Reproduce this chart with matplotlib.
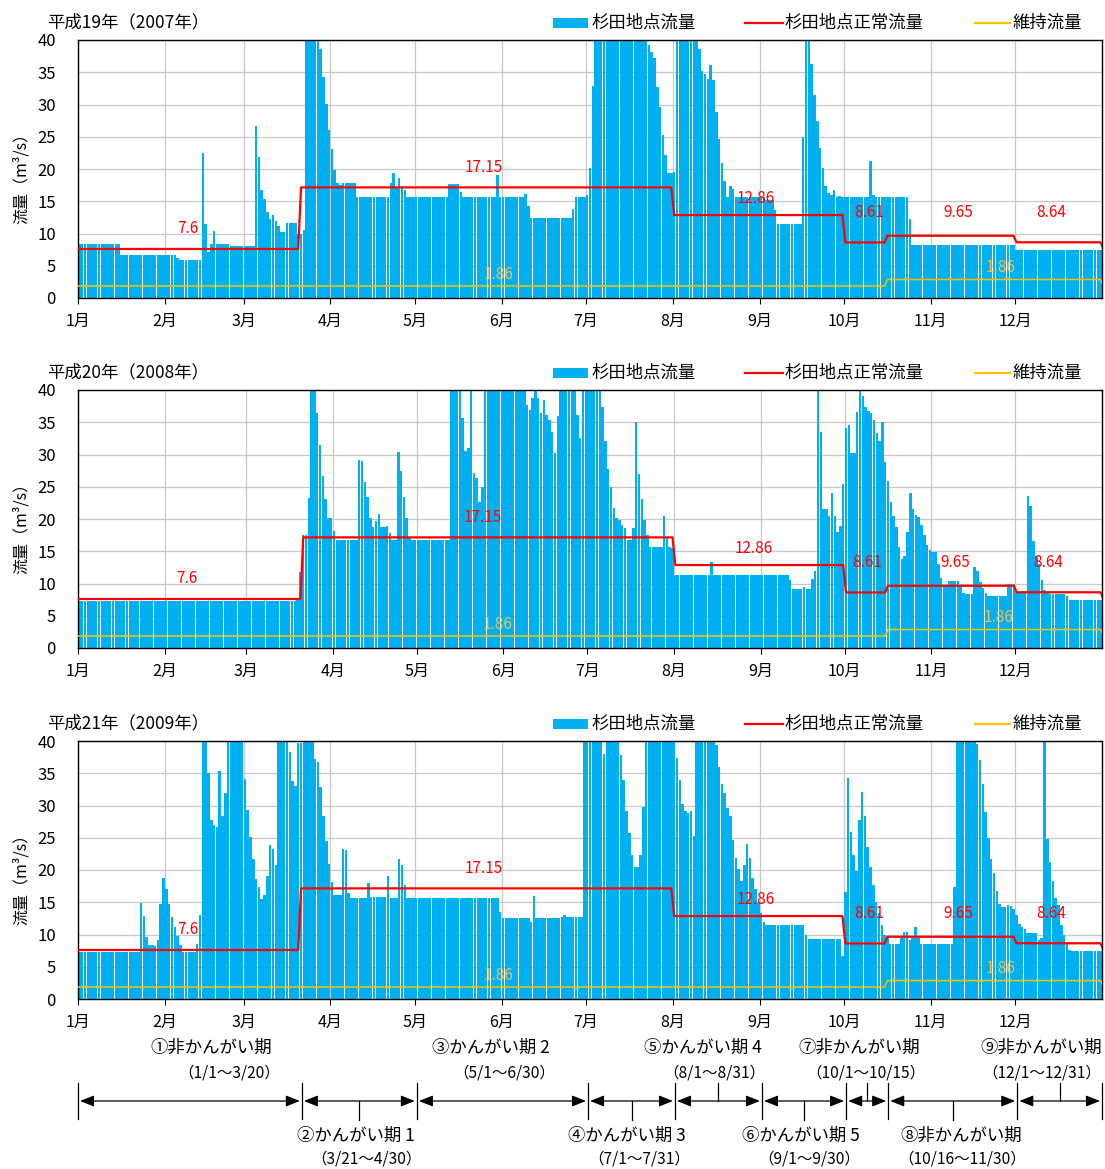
import numpy as np
import pandas as pd
import matplotlib
matplotlib.use("Agg")
import matplotlib.pyplot as plt
import matplotlib.transforms as mtransforms
from matplotlib.patches import Rectangle
from matplotlib.lines import Line2D

plt.rcParams['font.family'] = ['Noto Sans CJK JP', 'DejaVu Sans']

W, H = 1105, 1169

years = [2007, 2008, 2009]
titles = ["平成19年（2007年）", "平成20年（2008年）", "平成21年（2009年）"]
month_labels = [f"{m}月" for m in range(1, 13)]

OFF = 50  # off scale (> 40 m3/s)

# daily flow at 杉田 [m3/s], value or (value, number of days)
flow_2007 = [(8.4, 3), (8.3, 12), (6.6, 20), 6.2, (5.95, 8), 22.5, 11.4, 7.2, 8.3, 10.4,
             (8.35, 5), (8.1, 9), 26.7, 21.9, 16.8, 15.4, 13.4, 12.3, 12.9, 12.0, 11.1,
             (10.3, 2), (11.6, 4), (10.0, 2), 10.6, (OFF, 5), 38.6, 34.2, 30.1, 26.1, 23.1,
             19.9, 17.8, 17.5, (17.8, 5), (15.6, 12), 17.9, 19.4, 17.0, 18.6, 17.4, 16.7,
             (15.6, 15), (17.65, 4), 16.5, (15.6, 12), 19.0, (15.7, 9), 16.2, 14.3, (12.4, 15),
             13.8, (15.6, 4), 15.9, 20.1, 32.9, (OFF, 19), 39.2, 38.2, 37.2, 32.7, 29.6, 25.3,
             22.2, (19.4, 2), 19.6, (OFF, 8), 38.6, 35.2, 34.8, 33.9, 36.1, 33.8, 28.9, 24.6,
             21.0, 18.1, 15.7, 17.3, 16.9, (15.6, 11), (15.2, 3), 13.6, (11.4, 9), 25.0,
             (OFF, 2), 36.3, 31.5, 27.4, 23.3, 20.2, 17.4, 16.3, 15.9, 16.7, 15.7, 15.8,
             (15.6, 10), 21.3, 15.9, (15.6, 12), 12.2, (8.15, 37), (7.4, 31)]

flow_2008 = [(7.3, 78), 7.8, 11.8, (17.5, 2), 23.2, (OFF, 2), 36.5, 31.4, 26.7, 23.1, (20.1, 2),
             18.1, (16.7, 8), 29.1, 29.0, 25.8, 23.4, 20.2, 18.7, 19.7, 20.7, 18.8, 18.8, 18.9,
             17.8, (16.7, 2), 30.4, 27.4, 23.4, 20.1, 17.0, (16.7, 14), (OFF, 4), 35.6, 30.5,
             31.0, OFF, 27.2, 26.4, 22.7, 24.9, (OFF, 15), 37.7, 36.9, 38.7, 41, 38.8, 36.5,
             38.4, 36.1, 35.3, 33.5, 30.2, 36.0, (OFF, 6), 36.2, 32.6, (OFF, 7), 37.4, 32.1,
             27.7, 24.9, 21.7, 20.1, 19.8, 19.0, 18.6, (16.7, 2), 18.6, 35.0, 26.9, 23.1, 19.8,
             17.5, 15.7, (15.6, 4), 20.4, 17.0, 15.6, 15.5, (11.3, 13), 13.4, (11.3, 27), 10.5,
             (9.1, 4), 9.5, (9.1, 2), 10.7, 11.9, OFF, 33.5, (21.5, 2), 20.4, 24.1, 20.4, 18.0,
             18.9, 25.5, 34.1, 34.5, (30.2, 2), 36.6, 41, 39.1, 37.3, 36.7, 36.5, 35.3, 33.4,
             32.1, 35.0, 28.9, 25.9, 22.7, 20.4, 18.7, 15.6, 13.8, 14.2, 18.0, 24.1, 21.5, 20.6,
             20.3, 19.1, 17.5, 16.0, 15.2, (14.9, 2), 13.1, 10.9, (9.8, 2), (10.4, 4), 9.8, 8.6,
             (8.3, 3), 12.5, 11.9, 10.3, 9.25, 8.6, (8.1, 7), 10.0, (9.9, 2), (8.6, 2), 8.8, 8.7,
             23.5, 22.0, 16.6, 14.3, 13.0, 10.5, 9.0, 8.5, (8.3, 6), 8.0, (7.4, 12)]

flow_2009 = [(7.3, 22), 14.9, 12.9, 9.6, (8.4, 2), 8.2, 9.1, 14.8, 18.7, 17.1, 14.7, 12.7, 11.2,
             9.8, 8.4, (7.3, 5), 8.6, 13.0, (OFF, 2), 35.0, 27.8, 26.9, 26.7, 35.3, 28.3, 31.9,
             (OFF, 6), 34.1, 29.3, 25.1, 21.7, 18.6, 17.3, 15.5, 16.1, 19.1, 23.8, 23.3, 20.7,
             (OFF, 4), 38.3, 33.8, 33.0, (39.7, 2), (OFF, 4), 37.2, 36.7, 32.8, 28.4, 24.5, 21.0,
             18.1, (16.2, 3), 23.3, 23.1, 16.5, (15.7, 6), 18.0, (15.8, 6), 19.0, (15.7, 3), 21.7,
             20.8, 17.7, (15.7, 33), 13.5, (12.5, 10), 11.9, 16.0, (12.5, 9), 12.7, 13.0, (12.7, 6),
             (OFF, 7), 38.0, (OFF, 5), 37.8, 34.0, 29.1, 25.8, 22.4, (20.4, 2), 22.4, 29.8,
             (OFF, 11), 37.4, 34.0, 30.3, 29.1, 28.8, 29.1, 25.3, (OFF, 7), 39.4, 36.0, 33.4, 32.0,
             29.6, 28.3, 24.7, 21.8, 20.2, 18.3, 20.7, 24.0, 21.9, 18.8, 17.0, 15.1, 13.4, 12.0,
             (11.5, 14), 9.9, (9.25, 12), 6.7, 16.6, 34.3, 25.9, 22.3, 19.8, 27.8, 32.1, 28.3,
             23.6, 20.5, 17.7, 15.1, 13.3, 11.4, 9.9, 9.4, (8.5, 4), 9.4, (10.4, 2), 9.1, 9.5,
             11.1, 9.4, (8.5, 12), 17.4, (OFF, 7), 39.6, 37.0, 33.4, 29.0, 25.0, 21.7, 19.5, 16.7,
             14.8, (14.3, 2), 14.6, 14.4, 14.0, 13.0, 11.7, 11.2, 10.9, (10.2, 4), 9.1, 9.4, OFF,
             24.8, 21.3, 18.3, 15.7, 14.6, 11.5, 9.9, 8.5, 7.6, (7.4, 11)]

# 杉田地点正常流量 / 維持流量 : start date of each period and value
normal_start = ["01-01", "03-21", "08-01", "10-01", "10-16", "12-01"]
normal_vals = [7.6, 17.15, 12.86, 8.61, 9.65, 8.64]
maint_start = ["01-01", "10-16"]
maint_vals = [1.86, 2.86]

# かんがい期区分
period_start = ["01-01", "03-21", "05-01", "07-01", "08-01", "09-01", "10-01", "10-16", "12-01"]
period_names = ["①非かんがい期", "②かんがい期 1", "③かんがい期 2", "④かんがい期 3", "⑤かんがい期 4",
                "⑥かんがい期 5", "⑦非かんがい期", "⑧非かんがい期", "⑨非かんがい期"]
period_ranges = ["（1/1～3/20）", "（3/21～4/30）", "（5/1～6/30）", "（7/1～7/31）", "（8/1～8/31）",
                 "（9/1～9/30）", "（10/1～10/15）", "（10/16～11/30）", "（12/1～12/31）"]

BLUE = '#00B0F0'
RED = '#FF0000'
ORANGE = '#FFC000'
LABEL_YEL = '#E9C35A'


def expand(runs):
    out = []
    for r in runs:
        if isinstance(r, tuple):
            out += [r[0]] * r[1]
        else:
            out.append(r)
    return np.array(out, dtype=float)


def step_series(year, starts, vals):
    days = pd.date_range(f"{year}-01-01", f"{year}-12-31")
    s = pd.Series(np.nan, index=days)
    for st, v in zip(starts, vals):
        s[pd.Timestamp(f"{year}-{st}")] = v
    return s.ffill().to_numpy()


def fx(x):
    return x / W


def fy(y):
    return 1 - y / H


flows = [expand(flow_2007), expand(flow_2008), expand(flow_2009)]

fig = plt.figure(figsize=(W / 100, H / 100), dpi=100)

ax_left, ax_right = 78, 1102
ax_h = 258
ax_tops = [40, 390, 741]

axes = []
for k, year in enumerate(years):
    q = flows[k]
    n = len(q)
    top = ax_tops[k]
    ax = fig.add_axes([fx(ax_left), fy(top + ax_h), (ax_right - ax_left) / W, ax_h / H])
    axes.append(ax)
    x = np.arange(n)

    ax.bar(x + 0.5, q, width=0.9, color=BLUE, linewidth=0, zorder=2)

    normal = step_series(year, normal_start, normal_vals)
    maint = step_series(year, maint_start, maint_vals)
    xl = np.concatenate([[0], x + 0.5, [n + 0.5]])
    ax.plot(xl, np.concatenate([[normal[0]], normal, [normal[0]]]), color=RED, lw=1.6, zorder=4)
    ax.plot(xl, np.concatenate([[maint[0]], maint, [maint[0]]]), color=ORANGE, lw=1.1, zorder=3)

    ax.set_xlim(0, n)
    ax.set_ylim(0, 40)
    mstart = pd.date_range(f"{year}-01-01", periods=12, freq="MS").dayofyear - 1
    ax.set_xticks(mstart)
    ax.set_xticklabels(month_labels)
    ax.set_yticks(range(0, 41, 5))
    ax.grid(color='#C8C8C8', lw=0.9)
    ax.set_axisbelow(True)
    for sp in ax.spines.values():
        sp.set_color('black')
        sp.set_linewidth(1.0)
    ax.tick_params(axis='x', direction='out', length=4, pad=7, labelsize=11.5)
    ax.tick_params(axis='y', length=0, pad=16, labelsize=12)

    # value labels
    ax.text(39, 10.7, f"{normal_vals[0]}", color=RED, fontsize=11, ha='center', va='center', zorder=5)
    ax.text(144.7, 20.3, f"{normal_vals[1]}", color=RED, fontsize=11, ha='center', va='center', zorder=5)
    ax.text(241.6, 15.4, f"{normal_vals[2]}", color=RED, fontsize=11, ha='center', va='center', zorder=5)
    ax.text(281.9, 13.2, f"{normal_vals[3]}", color=RED, fontsize=11, ha='center', va='center', zorder=5)
    ax.text(313.6, 13.2, f"{normal_vals[4]}", color=RED, fontsize=11, ha='center', va='center', zorder=5)
    ax.text(346.9, 13.2, f"{normal_vals[5]}", color=RED, fontsize=11, ha='center', va='center', zorder=5)
    ax.text(150, 3.65, f"{maint_vals[0]}", color=LABEL_YEL, fontsize=11, ha='center', va='center', zorder=5)
    ax.text(329, 4.75, f"{maint_vals[0]}", color=LABEL_YEL, fontsize=11, ha='center', va='center', zorder=5)

    # title and y label
    fig.text(fx(47), fy(top - 18), titles[k], fontsize=12.5, ha='left', va='center')
    fig.text(fx(21), fy(top + ax_h / 2 + 5), "流量（m³/s）", fontsize=11.5, rotation=90,
             ha='center', va='center')

    # legend
    ly = top - 17
    fig.add_artist(Rectangle((fx(553), fy(ly + 5)), (588 - 553) / W, 10 / H,
                             transform=fig.transFigure, color=BLUE, lw=0))
    fig.text(fx(592), fy(ly), "杉田地点流量", fontsize=12.5, ha='left', va='center')
    fig.add_artist(Line2D([fx(745), fx(783)], [fy(ly), fy(ly)], transform=fig.transFigure,
                          color=RED, lw=1.6))
    fig.text(fx(785), fy(ly), "杉田地点正常流量", fontsize=12.5, ha='left', va='center')
    fig.add_artist(Line2D([fx(975), fx(1010)], [fy(ly), fy(ly)], transform=fig.transFigure,
                          color=ORANGE, lw=1.6))
    fig.text(fx(1013), fy(ly), "維持流量", fontsize=12.5, ha='left', va='center')

# period annotation below last panel
ax3 = axes[-1]
trans = mtransforms.blended_transform_factory(ax3.transData, fig.transFigure)
bounds = [pd.Timestamp(f"{years[-1]}-{s}").dayofyear - 1 + 0.8 for s in period_start]
bounds[0] = 0
bounds.append(len(flows[-1]))

y_arrow = fy(1101)
for b in bounds:
    fig.add_artist(Line2D([b, b], [fy(1083), fy(1119)], transform=trans, color='black', lw=0.9))
for a, b in zip(bounds[:-1], bounds[1:]):
    ax3.annotate('', xy=(a, y_arrow), xytext=(b, y_arrow), xycoords=trans, textcoords=trans,
                 arrowprops=dict(arrowstyle='<|-|>,head_length=0.7,head_width=0.28',
                                 color='black', lw=0.9, shrinkA=1.5, shrinkB=1.5,
                                 mutation_scale=12),
                 annotation_clip=False)

# centre marks: down for lower labels, up for upper labels
tick_dir = [0, -1, 0, -1, 1, -1, 1, -1, 1]
for i, d in enumerate(tick_dir):
    if d == 0:
        continue
    m = (bounds[i] + bounds[i + 1]) / 2
    y2 = fy(1120) if d < 0 else fy(1083)
    fig.add_artist(Line2D([m, m], [y_arrow, y2], transform=trans, color='black', lw=0.9))

name_x = [211, 356, 491, 627, 703, 801, 859, 961, 1041]
range_x = [229, 366, 504, 639, 714, 809, 866, 962, 1042]
for i in range(len(period_names)):
    upper = tick_dir[i] >= 0
    yn, yr = (1048, 1073) if upper else (1136, 1159)
    fig.text(fx(name_x[i]), fy(yn), period_names[i], fontsize=12.5, ha='center', va='center')
    fig.text(fx(range_x[i]), fy(yr), period_ranges[i], fontsize=11.2, ha='center', va='center')

fig.savefig("out.png", dpi=100)
